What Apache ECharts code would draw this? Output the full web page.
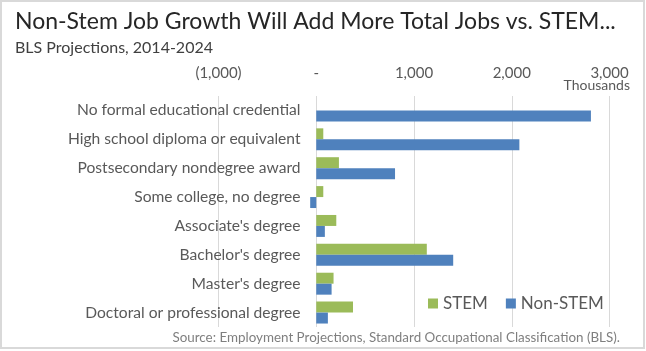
<!DOCTYPE html>
<html>
<head>
<meta charset="utf-8">
<script src="https://cdn.jsdelivr.net/npm/echarts@6/dist/echarts.min.js"></script>
<style>
  html, body { margin: 0; padding: 0; background: #fff; }
  #my_chart { width: 646px; height: 351px; }
</style>
</head>
<body>
<div id="my_chart"></div>
<script>
  // values in thousands of jobs
  var categories = [
    'No formal educational credential',
    'High school diploma or equivalent',
    'Postsecondary nondegree award',
    'Some college, no degree',
    "Associate's degree",
    "Bachelor's degree",
    "Master's degree",
    'Doctoral or professional degree'
  ];
  var stem = [0, 72, 232, 72, 205, 1131, 177, 376];
  var nonStem = [2810, 2078, 806, -62, 88, 1401, 157, 119];

  var FONT = 'Lato, "Noto Sans", sans-serif';
  var my_chart = echarts.init(document.getElementById('my_chart'));

  my_chart.setOption({
    animation: false,
    textStyle: { fontFamily: FONT },
    title: {
      text: 'Non-Stem Job Growth Will Add More Total Jobs vs. STEM...',
      subtext: 'BLS Projections, 2014-2024',
      left: 10, top: 5, itemGap: 7,
      textStyle: { fontSize: 23, fontWeight: 'normal', color: '#262626', fontFamily: FONT },
      subtextStyle: { fontSize: 16, color: '#404040', fontFamily: FONT }
    },
    legend: {
      left: 423, top: 290,
      itemWidth: 10, itemHeight: 10, itemGap: 18,
      icon: 'rect',
      textStyle: { fontSize: 17, color: '#595959', fontFamily: FONT },
      data: ['STEM', 'Non-STEM']
    },
    grid: { left: 218.5, right: 36.5, top: 96, bottom: 24, containLabel: false },
    xAxis: {
      type: 'value', position: 'top',
      min: -1000, max: 3000, interval: 1000,
      axisLine: { show: false }, axisTick: { show: false },
      splitLine: { lineStyle: { color: '#d9d9d9' } },
      axisLabel: {
        margin: 15, fontSize: 15, color: '#595959',
        formatter: function (v) {
          if (v === 0) return '-';
          var s = Math.abs(v).toLocaleString('en-US');
          return v < 0 ? '(' + s + ')' : s;
        }
      }
    },
    yAxis: {
      type: 'category', inverse: true, data: categories,
      axisLine: { show: false }, axisTick: { show: false },
      axisLabel: { margin: -82, fontSize: 15.6, color: '#595959' }
    },
    graphic: [
      { type: 'rect', shape: { x: 1, y: 1, width: 643, height: 347 },
        style: { fill: 'none', stroke: '#d9d9d9', lineWidth: 2 }, silent: true },
      { type: 'text', right: 16, top: 78,
        style: { text: 'Thousands', fontSize: 14, fill: '#595959', fontFamily: FONT } },
      { type: 'text', right: 26, top: 331,
        style: { text: 'Source: Employment Projections, Standard Occupational Classification (BLS).', fontSize: 13.4, fill: '#7f7f7f', fontFamily: FONT } }
    ],
    series: [{
      name: 'STEM', type: 'bar', data: stem,
      barGap: '0%', barCategoryGap: '24%',
      itemStyle: { color: '#9BBB59' }
    }, {
      name: 'Non-STEM', type: 'bar', data: nonStem,
      barGap: '0%', barCategoryGap: '24%',
      itemStyle: { color: '#4F81BD' }
    }]
  });
</script>
</body>
</html>
